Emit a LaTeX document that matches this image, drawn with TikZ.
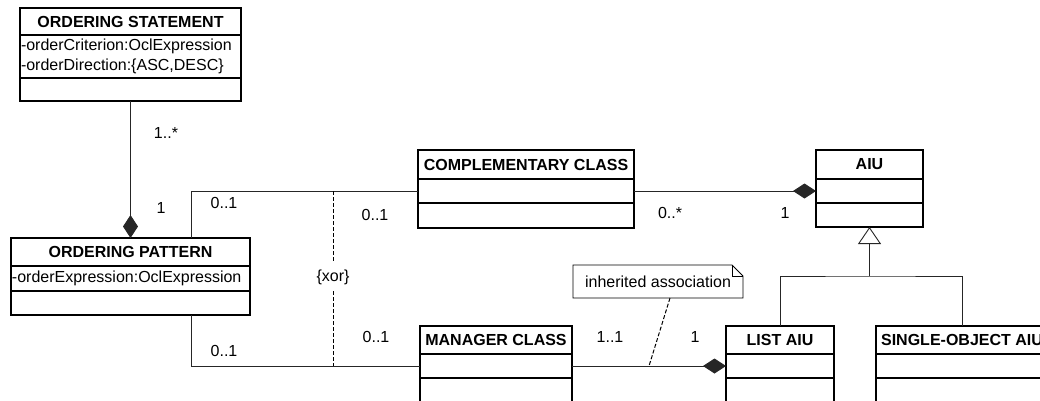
\documentclass[tikz,border=0pt]{standalone}
\usepackage{fontspec}
\setmainfont{Liberation Sans}
\usepackage{tikz}
\usetikzlibrary{arrows.meta,positioning,calc}

\begin{document}
\begin{tikzpicture}[x=1pt, y=-1pt,
  every node/.style={font=\fontsize{16}{20}\selectfont, inner sep=0pt, outer sep=0pt},
  head/.style={draw, line width=1.3pt, minimum height=28pt, font=\fontsize{16}{20}\selectfont\bfseries},
  comp/.style={draw, line width=1.3pt, minimum height=24pt, align=left, inner xsep=1pt},
  assoc/.style={line width=0.9pt, black!85},
  xorline/.style={line width=1pt, black, dash pattern=on 4pt off 2pt},
  compos/.style={assoc, -{Diamond[length=23pt, width=15pt]}},
  inherit/.style={assoc, -{Triangle[open, fill=white, length=17pt, width=23pt]}}]
  \useasboundingbox (0,0) rectangle (1040,400);
  \clip (0,0) rectangle (1040,400);

  % Ordering statement
  \node[head, minimum width=221pt, minimum height=27pt, anchor=north west] (os-h) at (20,8) {ORDERING STATEMENT};
  \node[comp, text width=219pt, minimum height=43pt, below=0pt of os-h] (os-a) {-orderCriterion:OclExpression\\-orderDirection:\{ASC,DESC\}};
  \node[comp, minimum width=221pt, minimum height=23pt, below=0pt of os-a] (os-o) {};

  % Ordering pattern
  \node[head, minimum width=239pt, anchor=north west] (op-h) at (11,238) {ORDERING PATTERN};
  \node[comp, text width=237pt, minimum height=25pt, below=0pt of op-h] (op-a) {-orderExpression:OclExpression};
  \node[comp, minimum width=239pt, below=0pt of op-a] (op-o) {};

  % Complementary class
  \node[head, minimum width=216pt, minimum height=29pt, anchor=north west] (cc-h) at (418,150) {COMPLEMENTARY CLASS};
  \node[comp, minimum width=216pt, below=0pt of cc-h] (cc-a) {};
  \node[comp, minimum width=216pt, minimum height=25pt, below=0pt of cc-a] (cc-o) {};

  % AIU and its subclasses
  \node[head, minimum width=107pt, minimum height=29pt, anchor=north west] (aiu-h) at (816,150) {AIU};
  \node[comp, minimum width=107pt, below=0pt of aiu-h] (aiu-a) {};
  \node[comp, minimum width=107pt, below=0pt of aiu-a] (aiu-o) {};

  \node[head, minimum width=108pt, anchor=north west] (lst-h) at (726,326) {LIST AIU};
  \node[comp, minimum width=108pt, below=0pt of lst-h] (lst-a) {};
  \node[comp, minimum width=108pt, minimum height=30pt, below=0pt of lst-a] (lst-o) {};

  \node[head, minimum width=172pt, anchor=north west] (so-h) at (876,326) {SINGLE-OBJECT AIU};
  \node[comp, minimum width=172pt, below=0pt of so-h] (so-a) {};
  \node[comp, minimum width=172pt, minimum height=30pt, below=0pt of so-a] (so-o) {};

  % Manager class
  \node[head, minimum width=152pt, anchor=north west] (mc-h) at (420,326) {MANAGER CLASS};
  \node[comp, minimum width=152pt, below=0pt of mc-h] (mc-a) {};
  \node[comp, minimum width=152pt, minimum height=30pt, below=0pt of mc-a] (mc-o) {};

  % Associations
  \draw[compos] (os-o.south) -- (op-h.north);
  \draw[assoc] ([xshift=60.5pt]op-h.north) |- (cc-a.west);
  \draw[assoc] ([xshift=60.5pt]op-o.south) |- (mc-a.west);
  \draw[compos] (cc-a.east) -- (aiu-a.west);
  \draw[compos] (mc-a.east) -- (lst-a.west);

  % xor constraint
  \coordinate (xor-t) at (333,191);
  \coordinate (xor-b) at (333,366);
  \node[inner ysep=7pt] (xor) at (333,277) {\{xor\}};
  \draw[xorline] (xor-t) -- (xor) -- (xor-b);

  % Generalization
  \coordinate (gen) at (869.5,276);
  \draw[inherit] (gen) -- (aiu-o.south);
  \draw[assoc] (lst-h.north) |- (gen) -| (so-h.north);

  % Note
  \node[minimum width=170pt, minimum height=33pt] (note) at (658,281.5) {inherited association};
  \draw[line width=0.9pt] (note.north west) -- ([xshift=-11pt]note.north east) -- ([yshift=-11pt]note.north east)
    -- (note.south east) -- (note.south west) -- cycle;
  \draw[line width=0.9pt] ([xshift=-11pt]note.north east) |- ([yshift=-11pt]note.north east);
  \coordinate (inh) at ($(mc-a.east)!0.5!(lst-a.west)$);
  \draw[xorline] ([xshift=12pt]note.south) -- (inh);

  % Multiplicities
  \node (m-os) at (166,133) {1..*};
  \node (m-op) at (161,208) {1};
  \node (m-op1) at (224,203) {0..1};
  \node (m-cc1) at (375,215) {0..1};
  \node (m-op2) at (224,351) {0..1};
  \node (m-mc1) at (376,337) {0..1};
  \node (m-cc2) at (670,213) {0..*};
  \node (m-aiu) at (785,213) {1};
  \node (m-mc2) at (610,337) {1..1};
  \node (m-lst) at (695,337) {1};
\end{tikzpicture}
\end{document}
